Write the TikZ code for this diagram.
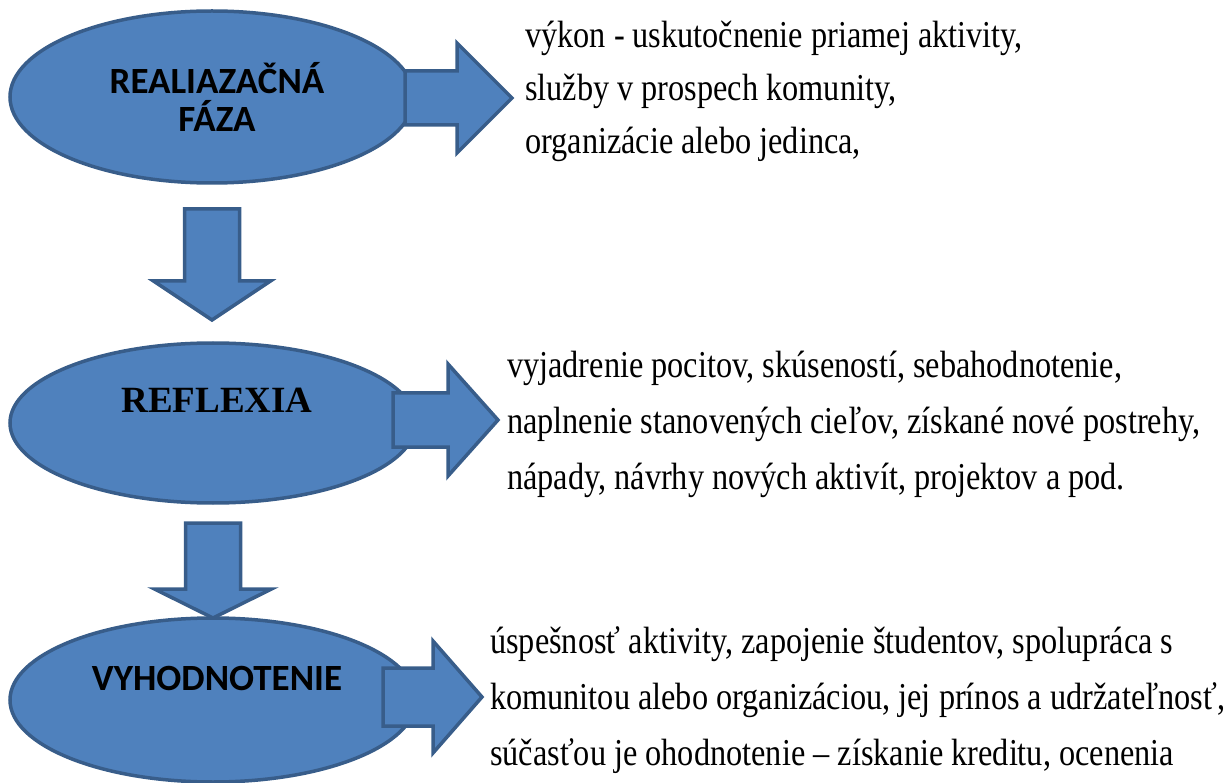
\documentclass[tikz,border=0pt]{standalone}
\usepackage{fontspec}
\setmainfont{Liberation Serif}
\newfontfamily\calfont{Carlito}
\newfontfamily\bodyfont[FakeStretch=0.85]{Liberation Serif}
\usetikzlibrary{shapes.geometric}
\definecolor{phasefill}{HTML}{4F81BD}
\definecolor{phaseline}{HTML}{385D8A}
\tikzset{
	phase/.style={ellipse, draw=phaseline, fill=phasefill, line width=3.5pt, inner sep=0pt},
	blockarrow/.style={draw=phaseline, fill=phasefill, line width=3.5pt, line join=miter},
	desc/.style={anchor=north west, align=left, inner sep=0pt, font=\bodyfont\fontsize{38}{56}\selectfont}
}
\begin{document}
\begin{tikzpicture}[x=1pt, y=-1pt]
	\useasboundingbox (0,0) rectangle (1229,783);
	
	\node[phase, minimum width=404pt, minimum height=172pt] (real) at (212,97) {};
	\node[phase, minimum width=406pt, minimum height=160pt] (refl) at (213,423) {};
	\node[phase, minimum width=406pt, minimum height=164pt] (vyh) at (213,700) {};
	
	\node[align=center, font=\calfont\bfseries\fontsize{37}{38}\selectfont] (real-t) at (217,97) {REALIAZAČNÁ\\FÁZA};
	\node[font=\bfseries\fontsize{37}{38}\selectfont] (refl-t) at (217,400) {REFLEXIA};
	\node[font=\calfont\bfseries\fontsize{37}{38}\selectfont] (vyh-t) at (217,678) {VYHODNOTENIE};
	
	% vertical arrows
	\coordinate (d1) at (real.south |- 0,209);
	\coordinate (d2) at (refl.south |- 0,523);
	\draw[blockarrow] (d1) ++(-27.5,0) -- ++(55,0) -- ++(0,72) -- ++(31,0) -- ++(-58.5,39) -- ++(-58.5,-39) -- ++(31,0) -- cycle;
	\draw[blockarrow] (d2) ++(-27.5,0) -- ++(55,0) -- ++(0,66) -- ++(31,0) -- ++(-58.5,29) -- ++(-58.5,-29) -- ++(31,0) -- cycle;
	
	% horizontal arrows
	\coordinate (r1) at (405,97);
	\coordinate (r2) at (393,420);
	\coordinate (r3) at (383,697);
	\draw[blockarrow] (r1) ++(0,-26) -- ++(52,0) -- ++(0,-28) -- ++(55,55) -- ++(-55,55) -- ++(0,-28) -- ++(-52,0) -- cycle;
	\draw[blockarrow] (r2) ++(0,-27) -- ++(55,0) -- ++(0,-29) -- ++(50,56) -- ++(-50,56) -- ++(0,-29) -- ++(-55,0) -- cycle;
	\draw[blockarrow] (r3) ++(0,-29) -- ++(50,0) -- ++(0,-27) -- ++(49,56) -- ++(-49,56) -- ++(0,-27) -- ++(-50,0) -- cycle;
	
	\node[desc, font=\bodyfont\fontsize{38}{53}\selectfont] (real-d) at (525,21) {výkon - uskutočnenie priamej aktivity,\\služby v prospech komunity,\\organizácie alebo jedinca,};
	\node[desc] (refl-d) at (507,351) {vyjadrenie pocitov, skúseností, sebahodnotenie,\\naplnenie stanovených cieľov, získané nové postrehy,\\nápady, návrhy nových aktivít, projektov a pod.};
	\node[desc] (vyh-d) at (490,626) {úspešnosť aktivity, zapojenie študentov, spolupráca s\\komunitou alebo organizáciou, jej prínos a udržateľnosť,\\súčasťou je ohodnotenie – získanie kreditu, ocenenia};
\end{tikzpicture}
\end{document}
